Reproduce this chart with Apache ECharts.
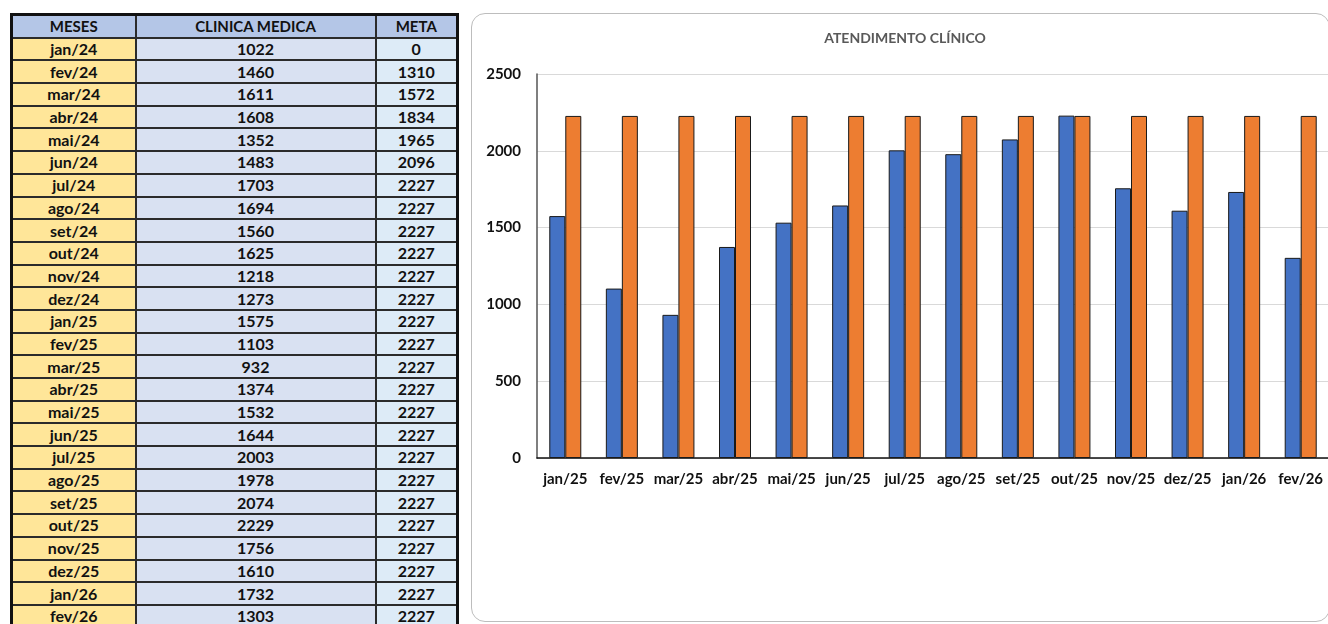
<!DOCTYPE html>
<html>
<head>
<meta charset="utf-8">
<script src="https://cdn.jsdelivr.net/npm/echarts@6/dist/echarts.min.js"></script>
<style>
  html, body { margin: 0; padding: 0; width: 1328px; height: 624px; overflow: hidden; background: #fff; font-family: Lato, "Open Sans", sans-serif; }
  #tbl { position: absolute; left: 10px; top: 13px; border-collapse: collapse; table-layout: fixed; border: 3px solid #111; }
  #tbl td { border: 2px solid #2b2b2b; padding: 0; height: 20.7px; line-height: 20px; text-align: center; font-weight: 700; font-size: 16px; color: #111; overflow: hidden; white-space: nowrap; }
  #tbl tr.h td { background: #B4C6E7; font-size: 15px; }
  #tbl td.m { background: #FFE699; }
  #tbl td.c { background: #D9E1F2; }
  #tbl td.t { background: #DDEBF7; }
  #wrap { position: absolute; left: 471px; top: 13px; width: 857px; height: 607px; border: 1.5px solid #bdbdbd; border-radius: 14px; }
  #chart { position: absolute; left: 0; top: 0; width: 857px; height: 607px; }
</style>
</head>
<body>
<table id="tbl"></table>
<div id="wrap"><div id="chart"></div></div>
<script>
// ---- data ----
const tableHeaders = ['MESES', 'CLINICA MEDICA', 'META'];
const tableMonths = ['jan/24','fev/24','mar/24','abr/24','mai/24','jun/24','jul/24','ago/24','set/24','out/24','nov/24','dez/24',
  'jan/25','fev/25','mar/25','abr/25','mai/25','jun/25','jul/25','ago/25','set/25','out/25','nov/25','dez/25','jan/26','fev/26'];
const tableClinica = [1022,1460,1611,1608,1352,1483,1703,1694,1560,1625,1218,1273,
  1575,1103,932,1374,1532,1644,2003,1978,2074,2229,1756,1610,1732,1303];
const tableMeta = [0,1310,1572,1834,1965,2096,2227,2227,2227,2227,2227,2227,
  2227,2227,2227,2227,2227,2227,2227,2227,2227,2227,2227,2227,2227,2227];

const chartTitle = 'ATENDIMENTO CLÍNICO';
const chartCategories = ['jan/25','fev/25','mar/25','abr/25','mai/25','jun/25','jul/25','ago/25','set/25','out/25','nov/25','dez/25','jan/26','fev/26'];
const chartClinica = [1575,1103,932,1374,1532,1644,2003,1978,2074,2229,1756,1610,1732,1303];
const chartMeta = [2227,2227,2227,2227,2227,2227,2227,2227,2227,2227,2227,2227,2227,2227];
const yTicks = [0,500,1000,1500,2000,2500];

// ---- table ----
const colWidths = [124, 240, 82];
const tbl = document.getElementById('tbl');
const cg = document.createElement('colgroup');
colWidths.forEach(w => { const c = document.createElement('col'); c.style.width = w + 'px'; cg.appendChild(c); });
tbl.appendChild(cg);
const hr = document.createElement('tr'); hr.className = 'h';
tableHeaders.forEach(h => { const td = document.createElement('td'); td.textContent = h; hr.appendChild(td); });
tbl.appendChild(hr);
tableMonths.forEach((m, i) => {
  const tr = document.createElement('tr');
  [[m,'m'],[tableClinica[i],'c'],[tableMeta[i],'t']].forEach(([v,cls]) => {
    const td = document.createElement('td'); td.className = cls; td.textContent = v; tr.appendChild(td);
  });
  tbl.appendChild(tr);
});

// ---- chart ----
const chart = echarts.init(document.getElementById('chart'));
const font = 'Lato, "Open Sans", sans-serif';
chart.setOption({
  animation: false,
  graphic: [{
    type: 'text', x: 433, y: 24,
    style: { text: chartTitle, fill: '#595959', font: 'bold 14px ' + font, align: 'center', verticalAlign: 'middle' }
  }],
  grid: { left: 65, top: 60, width: 792, height: 384 },
  xAxis: {
    type: 'category', data: chartCategories,
    axisLine: { lineStyle: { color: '#111', width: 1.5 } },
    axisTick: { show: false },
    axisLabel: { color: '#111', fontWeight: 'bold', fontSize: 15, fontFamily: font, margin: 14, interval: 0 }
  },
  yAxis: {
    type: 'value', min: yTicks[0], max: yTicks[yTicks.length - 1], interval: 500,
    axisLine: { show: true, lineStyle: { color: '#555', width: 1.5 } },
    axisTick: { show: false },
    splitLine: { lineStyle: { color: '#d9d9d9', width: 1.2 } },
    axisLabel: { color: '#111', fontWeight: 'bold', fontSize: 15, fontFamily: font, margin: 16, formatter: v => String(v) }
  },
  series: [
    { name: 'CLINICA MEDICA', type: 'bar', data: chartClinica, barWidth: 16, barGap: '0%',
      itemStyle: { color: '#4472C4', borderColor: '#1a1a1a', borderWidth: 1 } },
    { name: 'META', type: 'bar', data: chartMeta, barWidth: 16, barGap: '0%',
      itemStyle: { color: '#ED7D31', borderColor: '#1a1a1a', borderWidth: 1 } }
  ]
});
</script>
</body>
</html>
